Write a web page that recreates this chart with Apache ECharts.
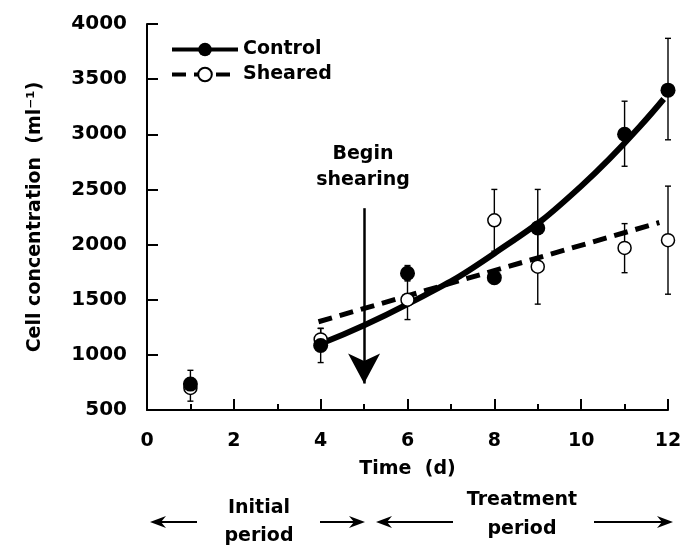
<!DOCTYPE html>
<html>
<head>
<meta charset="utf-8">
<script src="https://cdn.jsdelivr.net/npm/echarts@6/dist/echarts.min.js"></script>
<style>
  html, body { margin: 0; padding: 0; background: #fff; }
  #chart { width: 686px; height: 546px; }
</style>
</head>
<body>
<div id="chart"></div>
<script>
var days = [1, 4, 6, 8, 9, 11, 12]
var controlMean = [735, 1085, 1740, 1700, 2150, 3000, 3400]
var controlLow = [680, 930, 1670, 1660, 1800, 2710, 2950]
var controlHigh = [790, 1240, 1810, 1740, 2500, 3300, 3870]
var shearedMean = [700, 1140, 1500, 2220, 1800, 1970, 2040]
var shearedLow = [580, 1040, 1320, 1940, 1460, 1745, 1550]
var shearedHigh = [860, 1240, 1680, 2500, 2140, 2190, 2530]

// fitted curves, points
var controlFit = [[4, 1100], [6, 1460], [8, 1920], [10, 2530], [11.9, 3320]]
var shearedFit = [[3.95, 1300], [11.8, 2200]]

// begin shearing arrow (day, from, to)
var shearArrow = [5, 2330, 740]

var font = 'DejaVu Sans'

function pairs(xs, ys) {
  return xs.map(function(x, i) { return [x, ys[i]] })
}
function bars(xs, lo, hi) {
  return xs.map(function(x, i) { return [x, lo[i], hi[i]] })
}

function errorBar(params, api) {
  var x = api.value(0)
  var top = api.coord([x, api.value(2)])
  var bot = api.coord([x, api.value(1)])
  var w = 3
  var st = { stroke: '#000', lineWidth: 1.4 }
  return {
    type: 'group',
    children: [
      { type: 'line', shape: { x1: top[0], y1: top[1], x2: bot[0], y2: bot[1] }, style: st },
      { type: 'line', shape: { x1: top[0] - w, y1: top[1], x2: top[0] + w, y2: top[1] }, style: st },
      { type: 'line', shape: { x1: bot[0] - w, y1: bot[1], x2: bot[0] + w, y2: bot[1] }, style: st }
    ]
  }
}

var chart = echarts.init(document.getElementById('chart'))

var boldText = { fontFamily: font, fontWeight: 'bold', fontSize: 19, color: '#000' }
var boldFont = 'bold 19px "' + font + '"'

function hArrow(x1, x2, y) {
  // shaft plus head, head at x2
  var dir = x2 > x1 ? 1 : -1
  return [
    { type: 'line', shape: { x1: x1, y1: y, x2: x2 - dir * 10, y2: y }, style: { stroke: '#000', lineWidth: 2 } },
    { type: 'polygon', shape: { points: [[x2, y], [x2 - dir * 16, y - 6], [x2 - dir * 11, y], [x2 - dir * 16, y + 6]] }, style: { fill: '#000' } }
  ]
}

chart.setOption({
  animation: false,
  backgroundColor: '#fff',
  grid: { left: 147, right: 18, top: 24, bottom: 136 },
  legend: {
    orient: 'vertical',
    left: 165,
    top: 35,
    itemWidth: 66,
    itemHeight: 17,
    itemGap: 6,
    textStyle: boldText,
    lineStyle: { width: 4 },
    data: ['Control', 'Sheared']
  },
  xAxis: {
    type: 'value',
    min: 0,
    max: 12,
    interval: 2,
    name: 'Time  (d)',
    nameLocation: 'middle',
    nameGap: 50,
    nameTextStyle: boldText,
    axisLine: { lineStyle: { color: '#000', width: 2 } },
    axisTick: { inside: true, length: 11, lineStyle: { color: '#000', width: 2 } },
    minorTick: { show: true, splitNumber: 2, length: 6, lineStyle: { color: '#000', width: 2 } },
    axisLabel: Object.assign({ margin: 22 }, boldText),
    splitLine: { show: false }
  },
  yAxis: {
    type: 'value',
    min: 500,
    max: 4000,
    interval: 500,
    name: 'Cell concentration  (ml⁻¹)',
    nameLocation: 'middle',
    nameGap: 102,
    nameTextStyle: boldText,
    axisLine: { show: true, lineStyle: { color: '#000', width: 2 } },
    axisTick: { inside: true, length: 11, lineStyle: { color: '#000', width: 2 } },
    axisLabel: Object.assign({}, boldText, { margin: 20, fontSize: 20, formatter: function(v) { return String(v) } }),
    splitLine: { show: false }
  },
  series: [
    {
      name: 'Control',
      type: 'line',
      data: controlFit,
      smooth: true,
      symbol: 'circle',
      symbolSize: 14,
      showSymbol: false,
      itemStyle: { color: '#000' },
      lineStyle: { color: '#000', width: 6 },
      z: 3
    },
    {
      name: 'Sheared',
      type: 'line',
      data: shearedFit,
      symbol: 'circle',
      symbolSize: 13,
      showSymbol: false,
      itemStyle: { color: '#fff', borderColor: '#000', borderWidth: 1.5 },
      lineStyle: { color: '#000', width: 5, type: [14, 8] },
      z: 3
    },
    {
      name: 'controlErr',
      type: 'custom',
      renderItem: errorBar,
      data: bars(days, controlLow, controlHigh),
      z: 2
    },
    {
      name: 'shearedErr',
      type: 'custom',
      renderItem: errorBar,
      data: bars(days, shearedLow, shearedHigh),
      z: 2
    },
    {
      name: 'shearedPts',
      type: 'scatter',
      data: pairs(days, shearedMean),
      symbol: 'circle',
      symbolSize: 13,
      itemStyle: { color: '#fff', borderColor: '#000', borderWidth: 1.5, opacity: 1 },
      z: 4
    },
    {
      name: 'controlPts',
      type: 'scatter',
      data: pairs(days, controlMean),
      symbol: 'circle',
      symbolSize: 15,
      itemStyle: { color: '#000', opacity: 1 },
      z: 5,
      markLine: {
        silent: true,
        symbol: ['none', 'arrow'],
        symbolSize: [24, 30],
        label: { show: false },
        lineStyle: { color: '#000', width: 2.5, type: 'solid' },
        data: [[{ coord: [shearArrow[0], shearArrow[1]] }, { coord: [shearArrow[0], shearArrow[2]] }]]
      }
    }
  ],
  graphic: [
    { type: 'text', style: { text: 'Begin\nshearing', x: 363, y: 141, align: 'center', lineHeight: 26, font: boldFont, fill: '#000' } },
    { type: 'text', style: { text: 'Initial\nperiod', x: 259, y: 494, align: 'center', lineHeight: 28, font: boldFont, fill: '#000' } },
    { type: 'text', style: { text: 'Treatment\nperiod', x: 522, y: 486, align: 'center', lineHeight: 29, font: boldFont, fill: '#000' } }
  ].concat(hArrow(197, 150, 522)).concat(hArrow(320, 365, 522)).concat(hArrow(453, 376, 522)).concat(hArrow(594, 673, 522))
})
</script>
</body>
</html>
